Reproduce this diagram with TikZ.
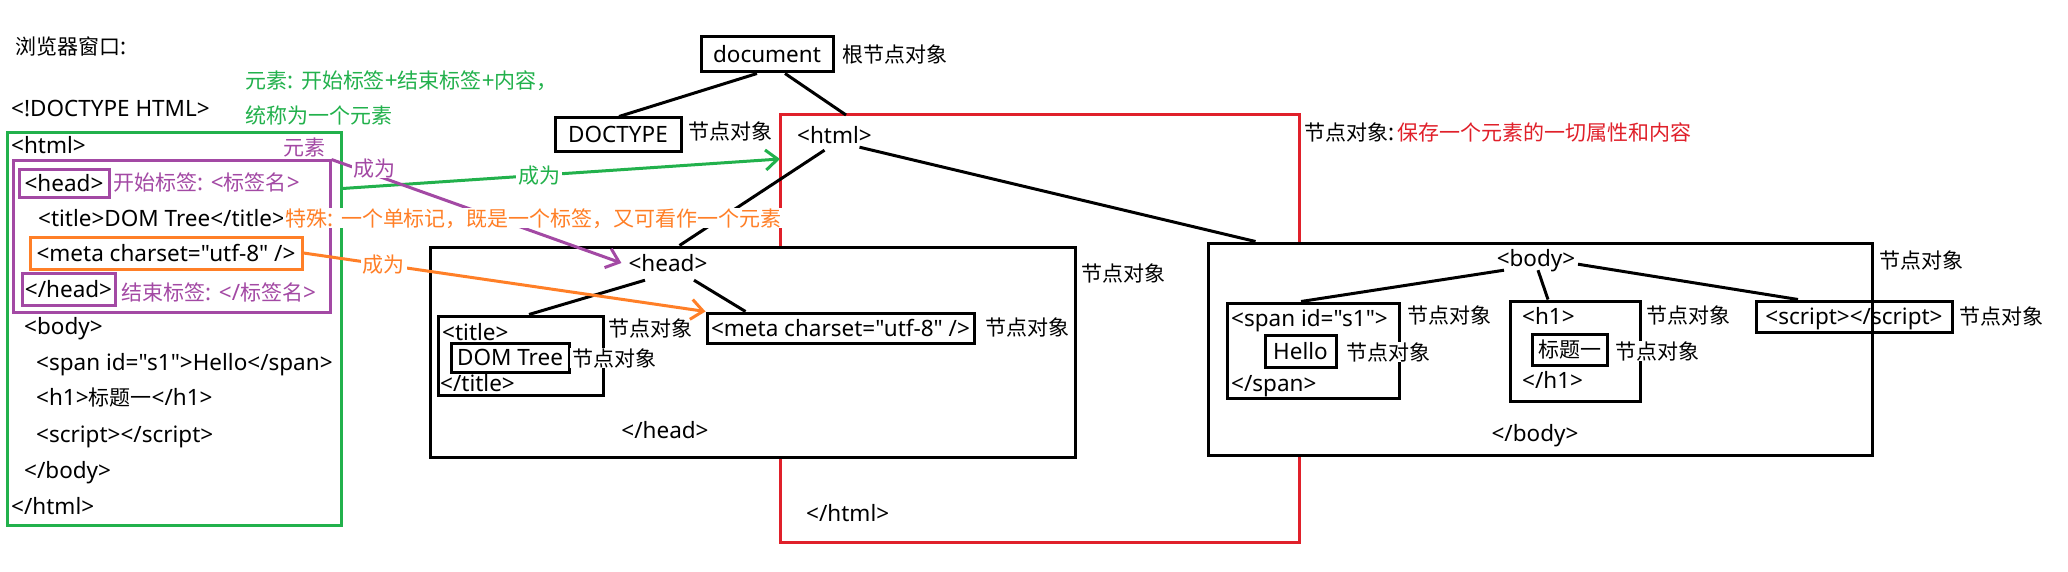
\documentclass[tikz,border=0pt]{standalone}
\usepackage{fontspec}
\newfontfamily\latinf{Noto Sans}
\newfontfamily\cjkf{Noto Sans CJK SC}[Scale=0.933]
\newcommand\zh[1]{{\cjkf #1}}
\usetikzlibrary{arrows.meta}
\definecolor{pgreen}{HTML}{22B14C}
\definecolor{ppurple}{HTML}{A349A4}
\definecolor{porange}{HTML}{FF7F27}
\definecolor{pred}{HTML}{E0202A}
\begin{document}
\begin{tikzpicture}[x=1pt,y=-1pt,
  every node/.style={font=\latinf\fontsize{22.5}{26}\selectfont, inner sep=0pt, text height=16pt, text depth=0pt},
  txt/.style={anchor=west},
  lbl/.style={anchor=west, fill=white, inner sep=2pt},
  clbl/.style={fill=white, inner sep=2pt},
  bx/.style={draw, line width=3pt},
  ln/.style={line width=3pt},
  tip/.style={-{Straight Barb[length=12pt,width=20pt]}}
]
\fill[white] (0,0) rectangle (2068,572);
\useasboundingbox (0,0) rectangle (2068,572);

% ---------- left pane ----------
\node[txt] (win) at (15,47) {\zh{浏览器窗口}:};
\node[txt, text=pgreen] (g1) at (245,81) {\zh{元素}: \zh{开始标签}+\zh{结束标签}+\zh{内容，}};
\node[txt, text=pgreen] (g2) at (245,116) {\zh{统称为一个元素}};
\node[txt] (doctypeL) at (11,109) {<!DOCTYPE HTML>};
\node[bx, draw=pgreen, minimum width=334pt, minimum height=392pt] (gbox) at (174,329) {};
\node[bx, draw=ppurple, minimum width=317pt, minimum height=151pt] (pbox) at (171.5,236.5) {};
\node[txt] (htmlL) at (11,146) {<html>};
\node[txt, text=ppurple] (ys) at (283,148) {\zh{元素}};
\node[bx, draw=ppurple, minimum width=90pt, minimum height=28pt] (pheadS) at (64,184) {<head>};
\node[txt, text=ppurple] (startlbl) at (113,183) {\zh{开始标签}: <\zh{标签名}>};
\node[txt] (titleL) at (38,218) {<title>DOM Tree</title>};
\node[bx, draw=porange, minimum width=272pt, minimum height=32pt] (metaL) at (166,253) {<meta charset="utf-8" />};
\node[bx, draw=ppurple, minimum width=93pt, minimum height=32pt] (pheadE) at (68.5,289) {</head>};
\node[txt, text=ppurple] (endlbl) at (121,292) {\zh{结束标签}: </\zh{标签名}>};
\node[txt] (bodyL) at (24,326) {<body>};
\node[txt] (spanL) at (36,362) {<span id="s1">Hello</span>};
\node[txt] (h1L) at (36,397) {<h1>\zh{标题一}</h1>};
\node[txt] (scriptL) at (36,434) {<script></script>};
\node[txt] (bodyEL) at (24,470) {</body>};
\node[txt] (htmlEL) at (11,506) {</html>};

% ---------- red html outline ----------
\coordinate (rTL) at (780,115);
\coordinate (rTR) at (1299,115);
\draw[ln, pred] (780,247) -- (rTL) -- (rTR) -- (1299,243);
\draw[ln, pred] (780,457) -- (780,542) -- (1299,542) -- (1299,455);

% ---------- top tree ----------
\node[bx, minimum width=132pt, minimum height=35pt] (docu) at (767,54.5) {document};
\node[txt] (rootlbl) at (842,55) {\zh{根节点对象}};
\node[bx, minimum width=126pt, minimum height=34pt] (doctype) at (618,135) {DOCTYPE};
\node[txt] (doclbl) at (688,132) {\zh{节点对象}};
\node[txt] (htmlT) at (797,136) {<html>};
\coordinate (htop) at (846,115);
\node[txt] (redlbl) at (1304,133) {\zh{节点对象}:\,\textcolor{pred}{\zh{保存一个元素的一切属性和内容}}};
\node[txt] (htmlE) at (806,513) {</html>};

% head subtree
\node[bx, minimum width=645pt, minimum height=210pt] (headbox) at (752.5,352) {};
\node (headT) at (668,263) {<head>};
\node (headE) at (665,430) {</head>};
\node[txt] (headlbl) at (1081,273) {\zh{节点对象}};
\node[bx, minimum width=165pt, minimum height=79pt] (titlebox) at (520.5,355.5) {};
\node[txt] (titleT) at (442,332) {<title>};
\node[txt] (titleE) at (440,383) {</title>};
\node[bx, minimum width=118pt, minimum height=29pt] (domtree) at (510,357.5) {DOM Tree};
\node[lbl] (domlbl) at (570,358) {\zh{节点对象}};
\node[txt] (titlelbl) at (608,328) {\zh{节点对象}};
\node[bx, minimum width=267pt, minimum height=30pt] (metabox) at (840.5,328) {<meta charset="utf-8" />};
\node[txt] (metalbl) at (985,327) {\zh{节点对象}};

% body subtree
\node[bx, minimum width=664pt, minimum height=212pt] (bodybox) at (1540,349) {};
\node (bodyT) at (1536,258) {<body>};
\node (bodyE) at (1535,433) {</body>};
\node[txt] (bodylbl) at (1879,260) {\zh{节点对象}};
\node[bx, minimum width=172pt, minimum height=95pt] (spanbox) at (1313,350.5) {};
\node[txt] (spanT) at (1231,318) {<span id="s1">};
\node[txt] (spanE) at (1231,383) {</span>};
\node[bx, minimum width=71pt, minimum height=32pt] (hellobox) at (1300.5,351) {Hello};
\node[lbl] (hellolbl) at (1344,352) {\zh{节点对象}};
\node[txt] (spanlbl) at (1407,315) {\zh{节点对象}};
\node[bx, minimum width=130pt, minimum height=100pt] (h1box) at (1575,351) {};
\node[txt] (h1T) at (1522,316) {<h1>};
\node[txt] (h1E) at (1522,380) {</h1>};
\node[bx, minimum width=75pt, minimum height=31pt] (btbox) at (1569.5,349.5) {\zh{标题一}};
\node[lbl] (btlbl) at (1613,351) {\zh{节点对象}};
\node[txt] (h1lbl) at (1646,315) {\zh{节点对象}};
\node[bx, minimum width=196pt, minimum height=31pt] (scriptbox) at (1854,316.5) {<script></script>};
\node[txt] (scriptlbl) at (1959,316) {\zh{节点对象}};

% ---------- tree connectors ----------
\draw[ln] ([xshift=-10pt]docu.south) -- ([xshift=1pt]doctype.north);
\draw[ln] ([xshift=18pt]docu.south) -- (htop);
\draw[ln] ([xshift=-10pt,yshift=-6pt]htmlT.south) -- ([xshift=-73pt]headbox.north);
\draw[ln] ([xshift=25pt,yshift=-3pt]htmlT.south) -- ([xshift=49pt]bodybox.north west);
\draw[ln] ([xshift=-23pt,yshift=-9pt]headT.south) -- ([xshift=8.5pt]titlebox.north);
\draw[ln] ([xshift=26pt,yshift=-9pt]headT.south) -- ([xshift=40pt]metabox.north west);
\draw[ln] ([xshift=-32pt,yshift=-4pt]bodyT.south) -- ([xshift=-12pt]spanbox.north);
\draw[ln] ([xshift=2pt,yshift=-4pt]bodyT.south) -- ([xshift=-27pt]h1box.north);
\draw[ln] ([xshift=42pt,yshift=2pt]bodyT.south) -- ([xshift=-56pt]scriptbox.north);

% ---------- coloured "成为" arrows ----------
\draw[ln, pgreen, tip] ([yshift=-57pt]gbox.north east) -- node[clbl, pos=0.45, text=pgreen] {\zh{成为}} ([yshift=-44pt]rTL);
\draw[ln, ppurple, tip] (pbox.north east) -- node[clbl, pos=0.15, yshift=7pt, text=ppurple] {\zh{成为}} ([xshift=-7pt]headT.west);
\draw[ln, porange, tip] (metaL.east) -- node[clbl, pos=0.2, text=porange] {\zh{成为}} (metabox.north west);

% orange note drawn last (covers lines)
\node[lbl, text=porange] (special) at (283,218) {\zh{特殊}: \zh{一个单标记，既是一个标签，又可看作一个元素}};
\end{tikzpicture}
\end{document}
